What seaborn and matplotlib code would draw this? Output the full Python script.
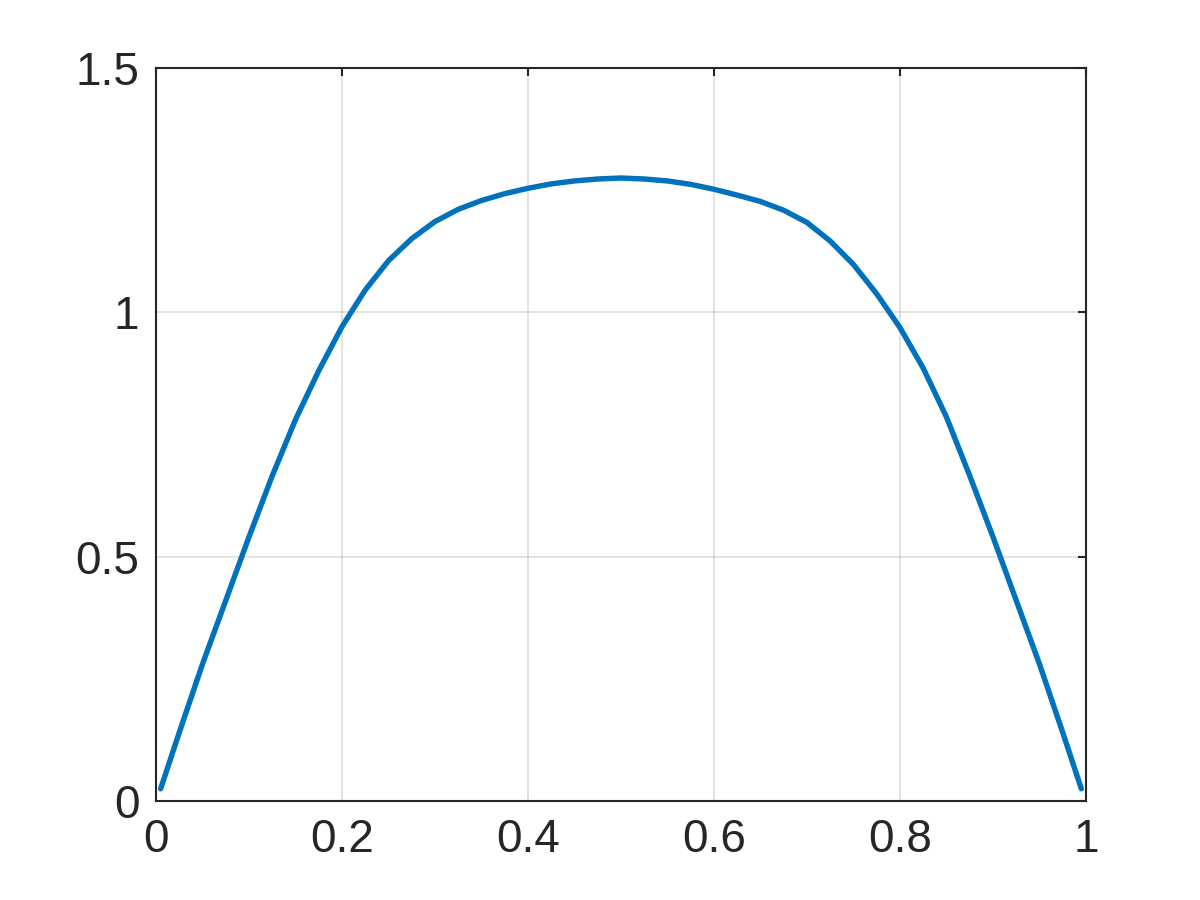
import numpy as np
import pandas as pd
import seaborn as sns
import matplotlib
matplotlib.use("Agg")
import matplotlib.pyplot as plt

# values
x_vals = [0.005, 0.025, 0.050, 0.075, 0.100, 0.125, 0.150, 0.175, 0.200, 0.225,
          0.250, 0.275, 0.300, 0.325, 0.350, 0.375, 0.400, 0.425, 0.450, 0.475,
          0.500, 0.525, 0.550, 0.575, 0.600, 0.625, 0.650, 0.675, 0.700, 0.725,
          0.750, 0.775, 0.800, 0.825, 0.850, 0.875, 0.900, 0.925, 0.950, 0.975,
          0.995]
y_vals = [0.025, 0.140, 0.280, 0.410, 0.540, 0.665, 0.780, 0.880, 0.970, 1.045,
          1.105, 1.150, 1.185, 1.210, 1.228, 1.242, 1.253, 1.262, 1.268, 1.272,
          1.274, 1.272, 1.268, 1.261, 1.251, 1.239, 1.226, 1.208, 1.183, 1.145,
          1.097, 1.037, 0.968, 0.885, 0.785, 0.665, 0.540, 0.410, 0.280, 0.140,
          0.025]
x_ticks = [0, 0.2, 0.4, 0.6, 0.8, 1]
x_ticklabels = ["0", "0.2", "0.4", "0.6", "0.8", "1"]
y_ticks = [0, 0.5, 1, 1.5]
y_ticklabels = ["0", "0.5", "1", "1.5"]

df = pd.DataFrame({"x": x_vals, "y": y_vals})

sns.set_style("white")
plt.rcParams["font.family"] = ["Liberation Sans", "DejaVu Sans"]

fig = plt.figure(figsize=(8, 6), dpi=150)
ax = fig.add_axes([0.13, 0.11, 0.775, 0.815])

sns.lineplot(data=df, x="x", y="y", sort=False, estimator=None,
             color="#0072BD", linewidth=2.6, ax=ax)

ax.set_xlim(0, 1)
ax.set_ylim(0, 1.5)
ax.set_xticks(x_ticks)
ax.set_xticklabels(x_ticklabels)
ax.set_yticks(y_ticks)
ax.set_yticklabels(y_ticklabels)
ax.set_xlabel("")
ax.set_ylabel("")

ax.grid(True, color="#262626", alpha=0.15, linewidth=0.8)
for s in ax.spines.values():
    s.set_visible(True)
    s.set_color("#262626")
    s.set_linewidth(1.0)
ax.tick_params(direction="in", length=4, width=1.0, colors="#262626",
               labelsize=22, top=True, right=True, pad=8)

fig.savefig("out.png", dpi=150)
